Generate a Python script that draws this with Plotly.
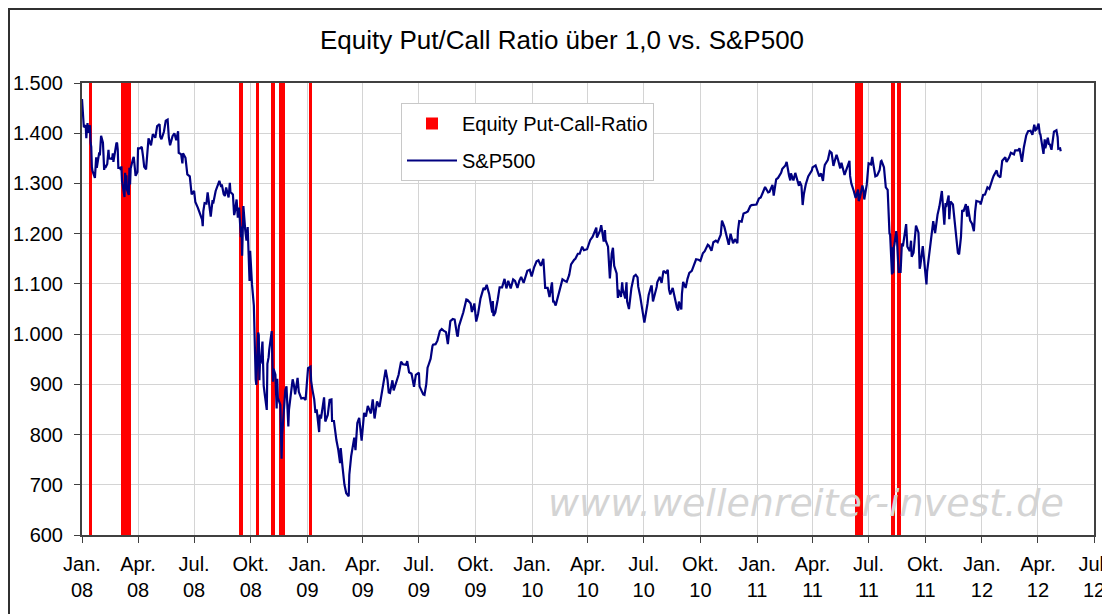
import plotly.graph_objects as go
from datetime import datetime

# ---------------- data ----------------
# periods in which the equity put/call ratio closed above 1.0 (start, end)
pcr_start = ["2008-01-13", "2008-03-04", "2008-09-12", "2008-10-09", "2008-11-03",
             "2008-11-16", "2009-01-03", "2011-06-09", "2011-08-06", "2011-08-16"]
pcr_end = ["2008-01-18", "2008-03-20", "2008-09-18", "2008-10-15", "2008-11-09",
           "2008-11-26", "2009-01-09", "2011-06-22", "2011-08-13", "2011-08-22"]

spx_dates = [
    "2008-01-01", "2008-01-02", "2008-01-04", "2008-01-07", "2008-01-08", "2008-01-09", "2008-01-10", "2008-01-11",
    "2008-01-14", "2008-01-15", "2008-01-16", "2008-01-17", "2008-01-18", "2008-01-22", "2008-01-23", "2008-01-24",
    "2008-01-25", "2008-01-28", "2008-01-29", "2008-01-30", "2008-01-31", "2008-02-01", "2008-02-04", "2008-02-05",
    "2008-02-06", "2008-02-07", "2008-02-08", "2008-02-11", "2008-02-12", "2008-02-13", "2008-02-14", "2008-02-15",
    "2008-02-19", "2008-02-20", "2008-02-21", "2008-02-22", "2008-02-25", "2008-02-26", "2008-02-27", "2008-02-28",
    "2008-02-29", "2008-03-03", "2008-03-04", "2008-03-05", "2008-03-06", "2008-03-07", "2008-03-10", "2008-03-11",
    "2008-03-12", "2008-03-13", "2008-03-14", "2008-03-17", "2008-03-18", "2008-03-19", "2008-03-20", "2008-03-24",
    "2008-03-25", "2008-03-26", "2008-03-27", "2008-03-28", "2008-03-31", "2008-04-01", "2008-04-04", "2008-04-07",
    "2008-04-09", "2008-04-11", "2008-04-14", "2008-04-16", "2008-04-18", "2008-04-22", "2008-04-25", "2008-04-29",
    "2008-05-01", "2008-05-02", "2008-05-06", "2008-05-07", "2008-05-09", "2008-05-13", "2008-05-16", "2008-05-19",
    "2008-05-21", "2008-05-23", "2008-05-27", "2008-05-30", "2008-06-02", "2008-06-05", "2008-06-06", "2008-06-10",
    "2008-06-12", "2008-06-13", "2008-06-17", "2008-06-20", "2008-06-24", "2008-06-26", "2008-06-27", "2008-07-01",
    "2008-07-03", "2008-07-07", "2008-07-09", "2008-07-11", "2008-07-14", "2008-07-15", "2008-07-16", "2008-07-18",
    "2008-07-21", "2008-07-23", "2008-07-25", "2008-07-28", "2008-07-31", "2008-08-01", "2008-08-05", "2008-08-08",
    "2008-08-11", "2008-08-14", "2008-08-15", "2008-08-18", "2008-08-20", "2008-08-22", "2008-08-26", "2008-08-28",
    "2008-08-29", "2008-09-02", "2008-09-04", "2008-09-05", "2008-09-08", "2008-09-10", "2008-09-12", "2008-09-15",
    "2008-09-16", "2008-09-17", "2008-09-18", "2008-09-19", "2008-09-22", "2008-09-24", "2008-09-26", "2008-09-29",
    "2008-09-30", "2008-10-02", "2008-10-03", "2008-10-06", "2008-10-07", "2008-10-08", "2008-10-09", "2008-10-10",
    "2008-10-13", "2008-10-14", "2008-10-15", "2008-10-16", "2008-10-17", "2008-10-20", "2008-10-22", "2008-10-24",
    "2008-10-27", "2008-10-28", "2008-10-30", "2008-10-31", "2008-11-04", "2008-11-05", "2008-11-06", "2008-11-07",
    "2008-11-10", "2008-11-12", "2008-11-13", "2008-11-14", "2008-11-18", "2008-11-19", "2008-11-20", "2008-11-21",
    "2008-11-24", "2008-11-26", "2008-11-28", "2008-12-01", "2008-12-02", "2008-12-05", "2008-12-08", "2008-12-10",
    "2008-12-12", "2008-12-16", "2008-12-18", "2008-12-22", "2008-12-26", "2008-12-29", "2008-12-31",
    "2009-01-02", "2009-01-06", "2009-01-07", "2009-01-09", "2009-01-12", "2009-01-14", "2009-01-16", "2009-01-20",
    "2009-01-21", "2009-01-23", "2009-01-28", "2009-01-30", "2009-02-03", "2009-02-06", "2009-02-09", "2009-02-10",
    "2009-02-13", "2009-02-17", "2009-02-20", "2009-02-23", "2009-02-24", "2009-02-27", "2009-03-02", "2009-03-05",
    "2009-03-09", "2009-03-10", "2009-03-12", "2009-03-13", "2009-03-18", "2009-03-20", "2009-03-23", "2009-03-26",
    "2009-03-30", "2009-04-02", "2009-04-03", "2009-04-06", "2009-04-09", "2009-04-14", "2009-04-17", "2009-04-20",
    "2009-04-24", "2009-04-28", "2009-05-01", "2009-05-04", "2009-05-08", "2009-05-11", "2009-05-13", "2009-05-15",
    "2009-05-19", "2009-05-21", "2009-05-26", "2009-05-29", "2009-06-02", "2009-06-05", "2009-06-10", "2009-06-12",
    "2009-06-15", "2009-06-19", "2009-06-23", "2009-06-26", "2009-07-01", "2009-07-02", "2009-07-08", "2009-07-10",
    "2009-07-13", "2009-07-15", "2009-07-17", "2009-07-20", "2009-07-23", "2009-07-24", "2009-07-28", "2009-07-31",
    "2009-08-04", "2009-08-07", "2009-08-10", "2009-08-14", "2009-08-17", "2009-08-21", "2009-08-25", "2009-08-28",
    "2009-09-01", "2009-09-02", "2009-09-04", "2009-09-11", "2009-09-16", "2009-09-18", "2009-09-23", "2009-09-25",
    "2009-09-29", "2009-10-02", "2009-10-05", "2009-10-09", "2009-10-14", "2009-10-16", "2009-10-19", "2009-10-23",
    "2009-10-28", "2009-10-29", "2009-10-30", "2009-11-02", "2009-11-06", "2009-11-09", "2009-11-13", "2009-11-17",
    "2009-11-20", "2009-11-23", "2009-11-27", "2009-12-01", "2009-12-04", "2009-12-08", "2009-12-11", "2009-12-14",
    "2009-12-18", "2009-12-22", "2009-12-24", "2009-12-28", "2009-12-31",
    "2010-01-04", "2010-01-08", "2010-01-11", "2010-01-15", "2010-01-19", "2010-01-21", "2010-01-22", "2010-01-26",
    "2010-01-29", "2010-02-02", "2010-02-04", "2010-02-05", "2010-02-08", "2010-02-12", "2010-02-17", "2010-02-19",
    "2010-02-24", "2010-02-26", "2010-03-02", "2010-03-05", "2010-03-10", "2010-03-12", "2010-03-16", "2010-03-19",
    "2010-03-23", "2010-03-26", "2010-03-31", "2010-04-05", "2010-04-09", "2010-04-15", "2010-04-16", "2010-04-21",
    "2010-04-23", "2010-04-27", "2010-04-29", "2010-04-30", "2010-05-04", "2010-05-06", "2010-05-07", "2010-05-10",
    "2010-05-12", "2010-05-14", "2010-05-18", "2010-05-20", "2010-05-21", "2010-05-25", "2010-05-27", "2010-05-28",
    "2010-06-01", "2010-06-03", "2010-06-04", "2010-06-07", "2010-06-10", "2010-06-11", "2010-06-15", "2010-06-18",
    "2010-06-21", "2010-06-22", "2010-06-25", "2010-06-29", "2010-07-01", "2010-07-02", "2010-07-07", "2010-07-09",
    "2010-07-13", "2010-07-14", "2010-07-16", "2010-07-20", "2010-07-22", "2010-07-23", "2010-07-27", "2010-07-30",
    "2010-08-02", "2010-08-06", "2010-08-09", "2010-08-11", "2010-08-13", "2010-08-17", "2010-08-20", "2010-08-24",
    "2010-08-26", "2010-08-27", "2010-08-31", "2010-09-01", "2010-09-03", "2010-09-07", "2010-09-10", "2010-09-13",
    "2010-09-17", "2010-09-21", "2010-09-24", "2010-09-28", "2010-10-01", "2010-10-05", "2010-10-08", "2010-10-13",
    "2010-10-15", "2010-10-19", "2010-10-22", "2010-10-26", "2010-10-29", "2010-11-03", "2010-11-05", "2010-11-09",
    "2010-11-12", "2010-11-16", "2010-11-19", "2010-11-23", "2010-11-26", "2010-11-30", "2010-12-01", "2010-12-03",
    "2010-12-07", "2010-12-10", "2010-12-14", "2010-12-17", "2010-12-21", "2010-12-23", "2010-12-31",
    "2011-01-04", "2011-01-07", "2011-01-12", "2011-01-14", "2011-01-19", "2011-01-21", "2011-01-26", "2011-01-28",
    "2011-02-01", "2011-02-04", "2011-02-09", "2011-02-11", "2011-02-16", "2011-02-18", "2011-02-22", "2011-02-24",
    "2011-02-25", "2011-03-01", "2011-03-04", "2011-03-07", "2011-03-10", "2011-03-11", "2011-03-14", "2011-03-16",
    "2011-03-18", "2011-03-21", "2011-03-25", "2011-03-31", "2011-04-01", "2011-04-06", "2011-04-08", "2011-04-12",
    "2011-04-15", "2011-04-18", "2011-04-20", "2011-04-21", "2011-04-26", "2011-04-29", "2011-05-02", "2011-05-05",
    "2011-05-06", "2011-05-10", "2011-05-12", "2011-05-16", "2011-05-18", "2011-05-20", "2011-05-23", "2011-05-27",
    "2011-05-31", "2011-06-01", "2011-06-03", "2011-06-07", "2011-06-10", "2011-06-14", "2011-06-15", "2011-06-17",
    "2011-06-21", "2011-06-23", "2011-06-24", "2011-06-28", "2011-06-30", "2011-07-01", "2011-07-05", "2011-07-07",
    "2011-07-08", "2011-07-12", "2011-07-15", "2011-07-19", "2011-07-21", "2011-07-22", "2011-07-26", "2011-07-28",
    "2011-07-29", "2011-08-01", "2011-08-02", "2011-08-03", "2011-08-04", "2011-08-05", "2011-08-08", "2011-08-09",
    "2011-08-10", "2011-08-11", "2011-08-12", "2011-08-15", "2011-08-16", "2011-08-18", "2011-08-19", "2011-08-22",
    "2011-08-24", "2011-08-26", "2011-08-30", "2011-08-31", "2011-09-02", "2011-09-06", "2011-09-08", "2011-09-09",
    "2011-09-12", "2011-09-16", "2011-09-20", "2011-09-22", "2011-09-23", "2011-09-27", "2011-09-30", "2011-10-03",
    "2011-10-04", "2011-10-07", "2011-10-10", "2011-10-14", "2011-10-17", "2011-10-21", "2011-10-24", "2011-10-27",
    "2011-10-28", "2011-11-01", "2011-11-03", "2011-11-04", "2011-11-08", "2011-11-09", "2011-11-11", "2011-11-15",
    "2011-11-18", "2011-11-23", "2011-11-25", "2011-11-28", "2011-11-30", "2011-12-02", "2011-12-06", "2011-12-08",
    "2011-12-09", "2011-12-13", "2011-12-16", "2011-12-19", "2011-12-21", "2011-12-23", "2011-12-29", "2011-12-30",
    "2012-01-03", "2012-01-06", "2012-01-10", "2012-01-13", "2012-01-18", "2012-01-20", "2012-01-25", "2012-01-27",
    "2012-01-31", "2012-02-03", "2012-02-08", "2012-02-10", "2012-02-14", "2012-02-17", "2012-02-22", "2012-02-24",
    "2012-02-29", "2012-03-02", "2012-03-06", "2012-03-09", "2012-03-13", "2012-03-16", "2012-03-20", "2012-03-23",
    "2012-03-26", "2012-03-28", "2012-03-30", "2012-04-02", "2012-04-04", "2012-04-05", "2012-04-10", "2012-04-12",
    "2012-04-13", "2012-04-17", "2012-04-19", "2012-04-20", "2012-04-23", "2012-04-26", "2012-04-27", "2012-05-01",
    "2012-05-03", "2012-05-04", "2012-05-07", "2012-05-08",
]

spx_values = [
    1468, 1447, 1412, 1416, 1390, 1409, 1420, 1401,
    1416, 1381, 1373, 1333, 1325, 1311, 1339, 1352,
    1331, 1354, 1362, 1356, 1379, 1395, 1381, 1337,
    1327, 1337, 1331, 1339, 1349, 1367, 1349, 1350,
    1349, 1360, 1343, 1353, 1372, 1381, 1380, 1368,
    1331, 1331, 1327, 1334, 1304, 1293, 1273, 1321,
    1309, 1316, 1288, 1277, 1331, 1298, 1330, 1350,
    1353, 1341, 1326, 1315, 1323, 1370, 1370, 1373,
    1355, 1333, 1328, 1365, 1390, 1376, 1398, 1391,
    1409, 1414, 1418, 1393, 1388, 1403, 1425, 1427,
    1391, 1376, 1394, 1400, 1386, 1404, 1361, 1358,
    1340, 1360, 1351, 1318, 1314, 1283, 1278, 1285,
    1263, 1252, 1245, 1239, 1228, 1215, 1245, 1261,
    1260, 1282, 1258, 1234, 1267, 1260, 1285, 1296,
    1305, 1293, 1298, 1279, 1275, 1292, 1272, 1301,
    1283, 1278, 1237, 1242, 1268, 1232, 1252, 1193,
    1214, 1156, 1207, 1255, 1207, 1186, 1213, 1106,
    1166, 1114, 1099, 1057, 996, 985, 910, 899,
    1003, 998, 908, 946, 941, 985, 897, 877,
    849, 941, 954, 969, 1006, 953, 905, 931,
    919, 852, 911, 873, 859, 807, 752, 800,
    852, 888, 896, 816, 849, 876, 910, 899,
    880, 913, 885, 872, 873, 869, 903,
    932, 935, 907, 890, 870, 843, 850, 805,
    840, 832, 874, 826, 839, 869, 870, 827,
    827, 789, 770, 743, 773, 735, 701, 683,
    677, 720, 751, 757, 794, 769, 823, 833,
    788, 834, 843, 836, 857, 842, 870, 832,
    866, 855, 878, 907, 929, 909, 884, 883,
    908, 888, 910, 919, 945, 940, 939, 946,
    924, 921, 895, 919, 923, 896, 880, 879,
    901, 933, 940, 951, 976, 979, 980, 987,
    1006, 1010, 1007, 1004, 980, 1026, 1030, 1029,
    998, 995, 1016, 1043, 1069, 1068, 1061, 1044,
    1061, 1025, 1040, 1071, 1092, 1088, 1098, 1080,
    1043, 1066, 1036, 1043, 1069, 1093, 1093, 1110,
    1091, 1106, 1091, 1109, 1106, 1092, 1106, 1114,
    1102, 1118, 1126, 1128, 1115,
    1133, 1145, 1147, 1136, 1150, 1116, 1092, 1092,
    1074, 1103, 1063, 1066, 1057, 1076, 1099, 1109,
    1105, 1104, 1118, 1139, 1148, 1150, 1160, 1160,
    1174, 1167, 1169, 1187, 1194, 1212, 1192, 1206,
    1217, 1184, 1207, 1187, 1174, 1128, 1111, 1160,
    1172, 1136, 1121, 1072, 1088, 1074, 1103, 1089,
    1071, 1103, 1065, 1050, 1087, 1092, 1115, 1118,
    1113, 1095, 1077, 1041, 1027, 1023, 1060, 1078,
    1095, 1095, 1065, 1083, 1094, 1103, 1114, 1102,
    1126, 1122, 1128, 1089, 1079, 1092, 1072, 1052,
    1047, 1065, 1049, 1080, 1104, 1092, 1110, 1122,
    1126, 1140, 1149, 1148, 1146, 1161, 1165, 1178,
    1176, 1166, 1183, 1186, 1183, 1198, 1226, 1213,
    1199, 1178, 1200, 1181, 1189, 1181, 1206, 1225,
    1224, 1240, 1242, 1244, 1255, 1257, 1258,
    1270, 1272, 1286, 1293, 1282, 1283, 1297, 1276,
    1308, 1311, 1321, 1329, 1336, 1343, 1315, 1306,
    1320, 1306, 1321, 1310, 1295, 1304, 1296, 1257,
    1279, 1298, 1314, 1326, 1332, 1336, 1328, 1314,
    1320, 1305, 1330, 1337, 1347, 1364, 1361, 1335,
    1340, 1357, 1349, 1330, 1341, 1333, 1317, 1331,
    1345, 1315, 1300, 1285, 1271, 1288, 1265, 1272,
    1296, 1284, 1268, 1297, 1321, 1340, 1338, 1353,
    1344, 1314, 1316, 1327, 1344, 1345, 1332, 1301,
    1292, 1287, 1254, 1260, 1200, 1199, 1119, 1173,
    1121, 1173, 1179, 1205, 1193, 1141, 1124, 1124,
    1178, 1177, 1213, 1219, 1174, 1165, 1186, 1154,
    1162, 1216, 1202, 1130, 1136, 1175, 1131, 1099,
    1124, 1155, 1195, 1225, 1201, 1238, 1254, 1285,
    1285, 1218, 1261, 1253, 1276, 1229, 1264, 1258,
    1216, 1162, 1159, 1193, 1247, 1244, 1259, 1234,
    1255, 1226, 1220, 1205, 1244, 1265, 1263, 1258,
    1277, 1278, 1292, 1289, 1308, 1315, 1326, 1316,
    1312, 1345, 1352, 1343, 1351, 1361, 1358, 1366,
    1366, 1370, 1343, 1371, 1396, 1404, 1405, 1397,
    1417, 1406, 1408, 1419, 1399, 1398, 1359, 1388,
    1370, 1391, 1377, 1379, 1367, 1400, 1403, 1406,
    1392, 1369, 1370, 1364,
]

y_min, y_max, y_step = 600, 1500, 100
x_start, x_end = "2008-01-01", "2012-07-01"
quarter_ticks = ["2008-01-01", "2008-04-01", "2008-07-01", "2008-10-01",
                 "2009-01-01", "2009-04-01", "2009-07-01", "2009-10-01",
                 "2010-01-01", "2010-04-01", "2010-07-01", "2010-10-01",
                 "2011-01-01", "2011-04-01", "2011-07-01", "2011-10-01",
                 "2012-01-01", "2012-04-01", "2012-07-01"]
quarter_labels = ["Jan.<br>08", "Apr.<br>08", "Jul.<br>08", "Okt.<br>08",
                  "Jan.<br>09", "Apr.<br>09", "Jul.<br>09", "Okt.<br>09",
                  "Jan.<br>10", "Apr.<br>10", "Jul.<br>10", "Okt.<br>10",
                  "Jan.<br>11", "Apr.<br>11", "Jul.<br>11", "Okt.<br>11",
                  "Jan.<br>12", "Apr.<br>12", "Jul.<br>12"]

# ---------------- figure ----------------
# the page puts the figure 8 px in from the window's top-left corner,
# so every screen position below is shifted by OFF into figure coordinates
OFF = 8
W, H = 1110 - OFF, 614 - OFF
SCR_L, SCR_R, SCR_T, SCR_B = 82, 1094, 83, 535   # plot area on screen
ML, MT = SCR_L - OFF, SCR_T - OFF
MR, MB = W - (SCR_R - OFF), H - (SCR_B - OFF)
PW, PH = W - ML - MR, H - MT - MB
FONT = "Liberation Sans, Arial, sans-serif"


def px_x(p):  # screen x -> paper x
    return (p - OFF - ML) / PW


def px_y(p):  # screen y -> paper y
    return 1 - (p - OFF - MT) / PH


fmt = "%Y-%m-%d"
bar_centers, bar_widths = [], []
for s, e in zip(pcr_start, pcr_end):
    ds, de = datetime.strptime(s, fmt), datetime.strptime(e, fmt)
    bar_centers.append(ds + (de - ds) / 2)
    bar_widths.append((de - ds).total_seconds() * 1000)

fig = go.Figure()
fig.add_trace(go.Bar(
    x=bar_centers, y=[y_max - y_min] * len(bar_centers), base=y_min,
    width=bar_widths, name="Equity Put-Call-Ratio",
    marker=dict(color="#ff0000", line=dict(width=0)),
    legendgroup="a",
))
fig.add_trace(go.Scatter(
    x=spx_dates, y=spx_values, mode="lines", name="S&P500",
    line=dict(color="#000080", width=2.2), legendgroup="b",
))

fig.update_layout(
    width=W, height=H,
    margin=dict(l=ML, r=MR, t=MT, b=MB, autoexpand=False),
    paper_bgcolor="white", plot_bgcolor="white",
    font=dict(family=FONT, size=20, color="black"),
    separators=",.",
    title=dict(text="Equity Put/Call Ratio über 1,0 vs. S&P500",
               x=(562 - OFF) / W, xanchor="center", y=1 - (40 - OFF) / H, yanchor="middle",
               font=dict(family=FONT, size=26, color="black")),
    showlegend=True,
    legend=dict(x=px_x(401), y=px_y(103), xanchor="left", yanchor="top",
                bgcolor="white", bordercolor="#c8c8c8", borderwidth=1,
                font=dict(family=FONT, size=20, color="black"),
                itemwidth=50, traceorder="grouped", tracegroupgap=8),
    bargap=0,
    xaxis=dict(type="date", range=[x_start, x_end], automargin=False,
               tickmode="array", tickvals=quarter_ticks, ticktext=quarter_labels,
               showgrid=True, gridcolor="#d4d4d4", gridwidth=1,
               showline=True, linecolor="#404040", linewidth=2, mirror=True,
               ticks="outside", ticklen=6, tickcolor="#404040", tickwidth=1,
               tickfont=dict(family=FONT, size=20, color="black"),
               ticklabelstandoff=4, zeroline=False),
    yaxis=dict(range=[y_min, y_max], dtick=y_step, tick0=y_min, tickformat=",d",
               automargin=False,
               showgrid=True, gridcolor="#d4d4d4", gridwidth=1,
               showline=True, linecolor="#404040", linewidth=2, mirror=True,
               ticks="outside", ticklen=6, tickcolor="#404040", tickwidth=1,
               tickfont=dict(family=FONT, size=20, color="black"),
               ticklabelstandoff=7, zeroline=False),
    shapes=[dict(type="rect", xref="paper", yref="paper",
                 x0=px_x(OFF + 1), x1=px_x(1110 + 20), y0=px_y(614 + 20), y1=px_y(OFF + 1),
                 line=dict(color="#303030", width=2), fillcolor="rgba(0,0,0,0)",
                 layer="above")],
    annotations=[dict(text="www.wellenreiter-invest.de", xref="paper", yref="paper",
                      x=px_x(806), y=px_y(503), xanchor="center", yanchor="middle",
                      showarrow=False,
                      font=dict(family="DejaVu Sans", size=38, color="#d4d4d4",
                                style="italic"))],
)

fig.write_html("out.html")
